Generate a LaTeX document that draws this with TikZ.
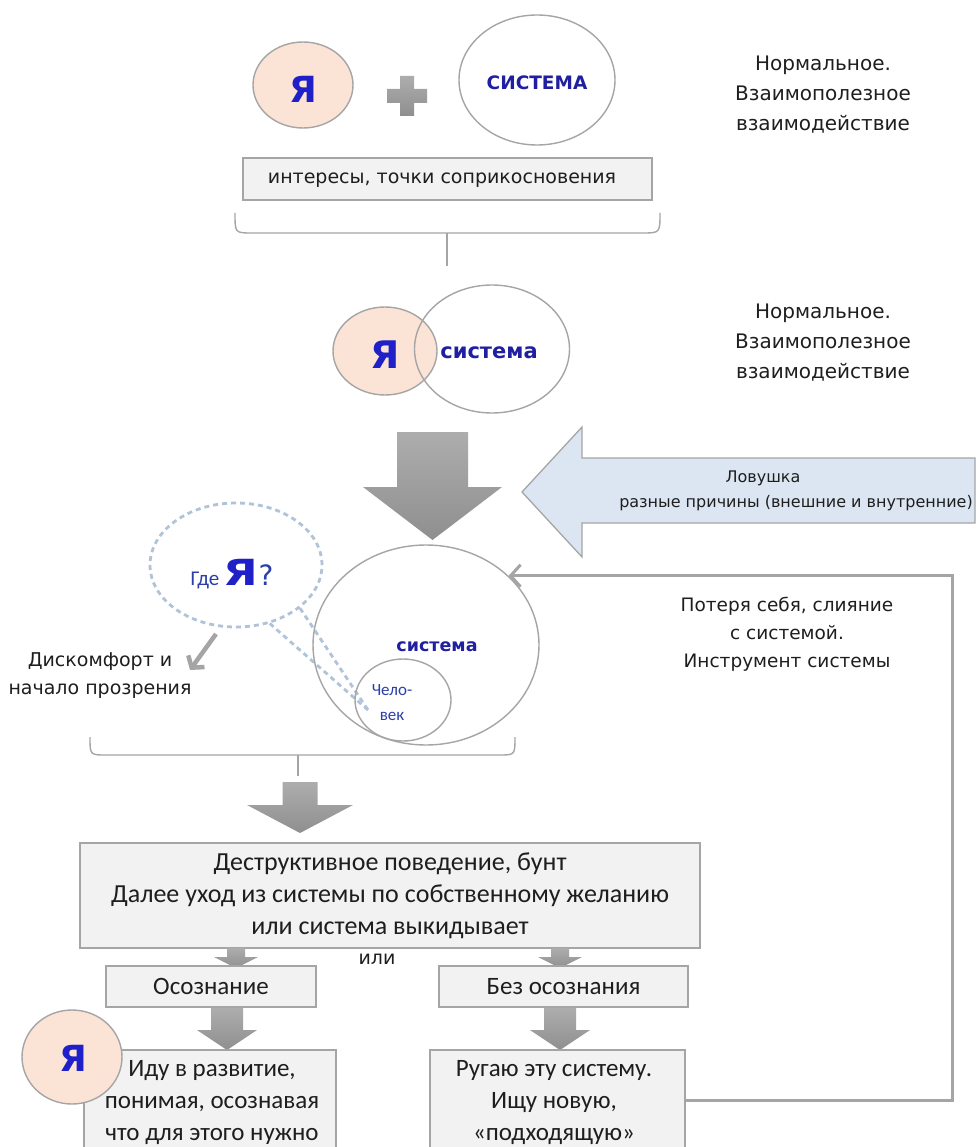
\documentclass[tikz,border=0pt]{standalone}
\usepackage{fontspec}
\setmainfont{DejaVu Sans}
\newfontfamily\calfont{Carlito}
\usetikzlibrary{arrows.meta,shapes.geometric,calc}
\definecolor{peach}{HTML}{FBE4D5}
\definecolor{edgegray}{HTML}{A5A5A5}
\definecolor{boxfill}{HTML}{F2F2F2}
\definecolor{navy}{HTML}{1F1FA0}
\definecolor{yablue}{HTML}{2020C8}
\definecolor{trapfill}{HTML}{DCE6F2}
\definecolor{dashblue}{HTML}{B0C3D9}
\definecolor{blkA}{HTML}{ADADAD}
\definecolor{blkB}{HTML}{8F8F8F}
\definecolor{txt}{HTML}{1E1E1E}
\definecolor{smallblue}{HTML}{2A3FA8}
\newcommand{\blockdown}[6]{\path[blockarrow] ({#1-#3},#2) -- ({#1+#3},#2) -- ({#1+#3},#4) -- ({#1+#5},#4) -- (#1,#6) -- ({#1-#5},#4) -- ({#1-#3},#4) -- cycle;}
\begin{document}
\begin{tikzpicture}[x=1pt,y=-1pt,
  ell/.style={ellipse,draw=edgegray,line width=1.4pt,inner sep=0pt},
  graybox/.style={draw=edgegray,fill=boxfill,line width=1.3pt,inner sep=0pt},
  blockarrow/.style={top color=blkA,bottom color=blkB},
  bracestroke/.style={draw=edgegray,line width=1.4pt},
  yatext/.style={text=yablue,font=\fontsize{36}{36}\selectfont\bfseries},
  bodytxt/.style={text=txt,align=center,inner sep=0pt},
  bubbleline/.style={draw=dashblue,line width=2.8pt,dash pattern=on 5pt off 4pt},
  fbline/.style={draw=edgegray,line width=3pt},
]
\useasboundingbox (0,0) rectangle (977,1147);
\clip (0,0) rectangle (977,1147);
\fill[white] (0,0) rectangle (977,1147);

% ---------- row 1
\node[ell,fill=peach,minimum width=100pt,minimum height=86pt] (ya1) at (303,85) {};
\node[yatext] (ya1t) at (303,89) {Я};
\path[blockarrow] (400,76) -- (414,76) -- (414,89) -- (427,89) -- (427,103) -- (414,103) -- (414,116) -- (400,116) -- (400,103) -- (387,103) -- (387,89) -- (400,89) -- cycle;
\node[ell,minimum width=156pt,minimum height=130pt] (sys1) at (537,80) {};
\node[text=navy,font=\fontsize{18.5}{20}\selectfont\bfseries] (sys1t) at (537,83) {СИСТЕМА};
\node[graybox,minimum width=409pt,minimum height=42pt] (int) at (447.5,179) {};
\node[text=txt,font=\fontsize{19}{20}\selectfont] (intt) at (442,180) {интересы, точки соприкосновения};
\draw[bracestroke] (235,213) .. controls (235,233) .. (252,233) -- (642,233) .. controls (660,233) .. (660,213);
\draw[bracestroke] (447,233) -- (447,266);
\node[bodytxt,font=\fontsize{20}{30}\selectfont] (norm1) at (823,95) {Нормальное.\\Взаимополезное\\взаимодействие};

% ---------- row 2
\node[ell,fill=peach,minimum width=104pt,minimum height=88pt] (ya2) at (385,351) {};
\node[ell,minimum width=155pt,minimum height=128pt] (sys2) at (492,349) {};
\node[yatext,font=\fontsize{38}{38}\selectfont\bfseries] (ya2t) at (385,355) {Я};
\node[text=navy,font=\fontsize{21}{22}\selectfont\bfseries] (sys2t) at (489,353) {система};
\node[bodytxt,font=\fontsize{20}{30}\selectfont] (norm2) at (823,343) {Нормальное.\\Взаимополезное\\взаимодействие};

% ---------- big arrow and trap arrow
\blockdown{432.5}{432}{35.5}{487}{69.5}{540}
\draw[fill=trapfill,draw=edgegray,line width=1.3pt] (522,492) -- (582,427) -- (582,458) -- (975,458) -- (975,523) -- (582,523) -- (582,557) -- cycle;
\node[text=txt,font=\fontsize{16}{18}\selectfont] (trap1) at (763,478) {Ловушка};
\node[text=txt,font=\fontsize{16}{18}\selectfont] (trap2) at (796,503) {разные причины (внешние и внутренние)};

% ---------- row 3
\node[ellipse,bubbleline,minimum width=172pt,minimum height=124pt,inner sep=0pt] (bubble) at (236,565) {};
\coordinate (tip) at (368,710);
\draw[bubbleline] (bubble.-34) -- (tip);
\draw[bubbleline] (bubble.-60) -- (tip);
\node[anchor=base,text=smallblue,inner sep=0pt] (gde) at (232,585) {{\calfont\fontsize{21}{22}\selectfont Где }{\fontsize{36}{36}\selectfont\bfseries\color{yablue}\scalebox{1.25}[1]{Я}}{\fontsize{28}{28}\selectfont ?}};
\coordinate (dA) at (216,634);
\coordinate (dB) at (190,670);
\draw[draw=edgegray,line width=4.5pt,-{Straight Barb[length=8pt,width=20pt]}] (dA) -- (dB);
\node[bodytxt,font=\fontsize{19}{28}\selectfont] (disc) at (100,676) {Дискомфорт и\\начало прозрения};

\node[ell,minimum width=226pt,minimum height=200pt] (sys3) at (426,645) {};
\node[ell,minimum width=96pt,minimum height=82pt] (chel) at (403,700) {};
\node[text=navy,font=\fontsize{17.5}{18}\selectfont\bfseries] (sys3t) at (437,647) {система};
\node[bodytxt,text=smallblue,font=\calfont\fontsize{17}{25}\selectfont] (chelt) at (392,703) {Чело-\\век};

\node[bodytxt,font=\fontsize{18.5}{28}\selectfont] (lost) at (787,634) {Потеря себя, слияние\\с системой.\\Инструмент системы};

\draw[bracestroke] (90,737) .. controls (90,755) .. (106,755) -- (499,755) .. controls (515,755) .. (515,737);
\draw[bracestroke] (298,755) -- (298,776);

% ---------- destructive
\blockdown{300}{782}{17.5}{805}{53}{833}
\node[graybox,minimum width=620pt,minimum height=105pt] (destr) at (390,895.5) {};
\node[bodytxt,font=\calfont\fontsize{26}{32}\selectfont] (destrt) at (390,896) {Деструктивное поведение, бунт\\Далее уход из системы по собственному желанию\\или система выкидывает};

\blockdown{236}{948}{9}{957}{22}{968}
\blockdown{560}{948}{9}{957}{22}{968}
\node[text=txt,font=\fontsize{19}{20}\selectfont] (ili) at (377,959) {или};

\node[graybox,minimum width=210pt,minimum height=41pt,text=txt,font=\calfont\fontsize{25}{26}\selectfont] (osoz) at (211,986.5) {Осознание};
\node[graybox,minimum width=249pt,minimum height=41pt,text=txt,font=\calfont\fontsize{25}{26}\selectfont] (bez) at (563.5,986.5) {Без осознания};

\blockdown{227}{1008}{16}{1030}{30}{1050}
\blockdown{560}{1008}{16}{1030}{30}{1050}

\node[graybox,minimum width=252pt,minimum height=110pt] (idu) at (210,1105) {};
\node[graybox,minimum width=255pt,minimum height=100pt] (rug) at (557.5,1100) {};
\node[bodytxt,anchor=north,font=\calfont\fontsize{25}{32}\selectfont] (idut) at (212,1060) {Иду в развитие,\\понимая, осознавая\\что для этого нужно};
\node[bodytxt,anchor=north,font=\calfont\fontsize{25}{32}\selectfont] (rugt) at (554,1060) {Ругаю эту систему.\\Ищу новую,\\«подходящую»};

\node[ell,fill=peach,minimum width=100pt,minimum height=94pt] (ya3) at (72,1057) {};
\node[yatext] (ya3t) at (73,1058) {Я};

% ---------- feedback loop
\coordinate (fbx) at (952,0);
\draw[fbline,-{Straight Barb[length=10pt,width=22pt]}] (rug.east) -| (fbx |- sys3.40) -- (sys3.40);
\end{tikzpicture}
\end{document}
